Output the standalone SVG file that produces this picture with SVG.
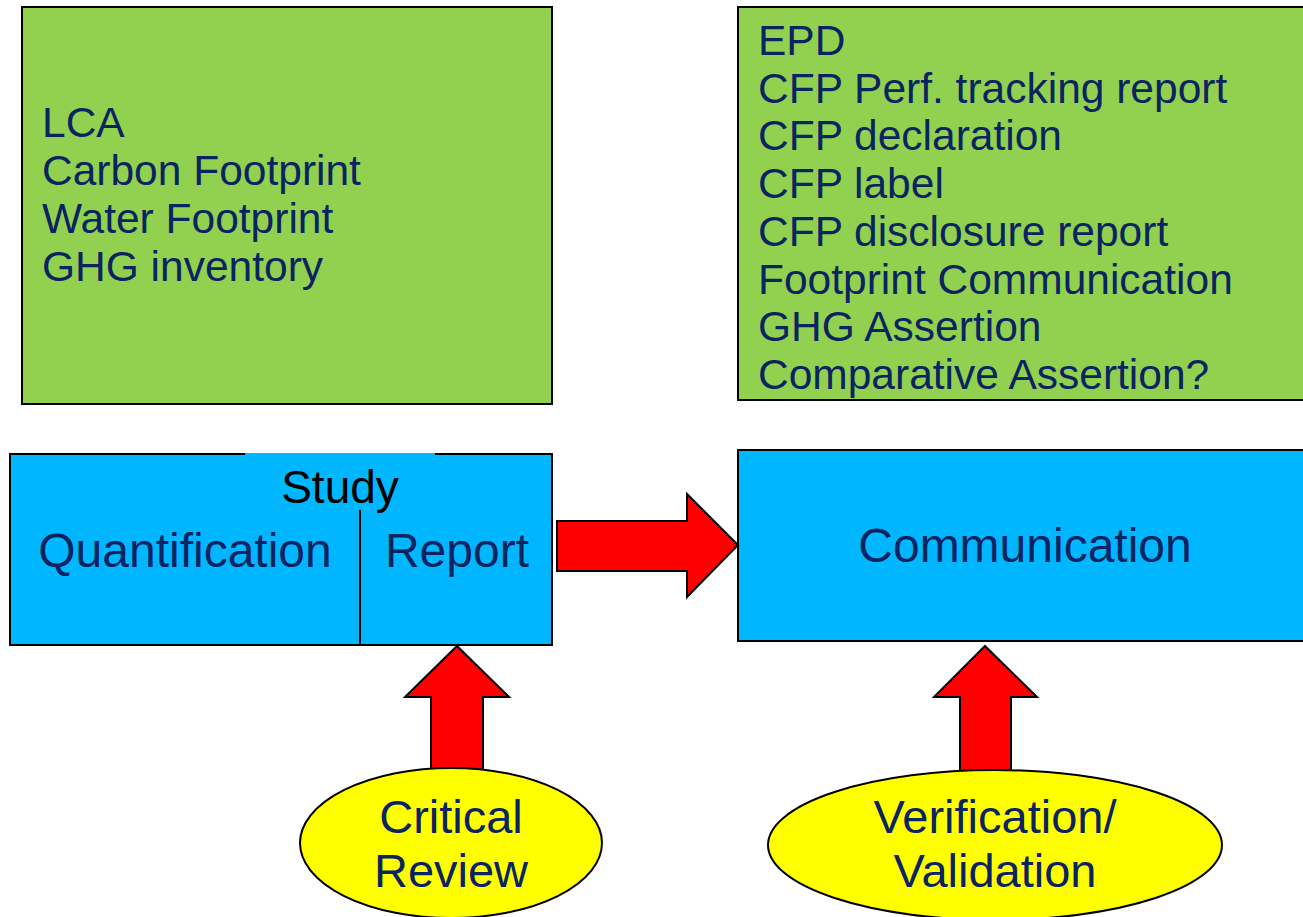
<svg xmlns="http://www.w3.org/2000/svg" width="1303" height="917" viewBox="0 0 1303 917">
<style>
.green{fill:#92D050;stroke:#000;stroke-width:2}
.blue{fill:#00B6FF;stroke:#000;stroke-width:2}
.arrow{fill:#FF0000;stroke:#000;stroke-width:2;stroke-linejoin:miter}
.oval{fill:#FFFF00;stroke:#000;stroke-width:2}
text{font-family:"Liberation Sans",Arial,sans-serif;fill:#0A2461}
.list{font-size:42.5px}
.big{font-size:48px}
.mid{font-size:47px}
</style>
<rect width="1303" height="917" fill="#fff"/>
<g id="studies">
<rect class="green" x="22" y="7" width="530" height="397"/>
<text class="list"><tspan x="42" y="137">LCA</tspan><tspan x="42" y="185">Carbon Footprint</tspan><tspan x="42" y="233">Water Footprint</tspan><tspan x="42" y="281">GHG inventory</tspan></text>
</g>
<g id="communications">
<rect class="green" x="738" y="7" width="580" height="393"/>
<text class="list"><tspan x="758" y="55">EPD</tspan><tspan x="758" y="103">CFP Perf. tracking report</tspan><tspan x="758" y="150">CFP declaration</tspan><tspan x="758" y="198">CFP label</tspan><tspan x="758" y="246">CFP disclosure report</tspan><tspan x="758" y="294">Footprint Communication</tspan><tspan x="758" y="341">GHG Assertion</tspan><tspan x="758" y="389">Comparative Assertion?</tspan></text>
</g>
<g id="study">
<rect class="blue" x="10" y="454" width="542" height="191"/>
<rect x="245" y="453" width="190" height="3" fill="#00B6FF"/>
<line x1="360" y1="510" x2="360" y2="645" stroke="#000" stroke-width="2"/>
<text x="340" y="503" font-size="46" text-anchor="middle" style="fill:#000">Study</text>
<text class="big" x="185" y="567" text-anchor="middle">Quantification</text>
<text class="big" x="457" y="567" text-anchor="middle">Report</text>
</g>
<g id="communication">
<rect class="blue" x="738" y="450" width="580" height="191"/>
<text class="big" x="1025" y="562" text-anchor="middle">Communication</text>
</g>
<g id="connectors">
<polygon class="arrow" points="557,521 687,521 687,494 738,545 687,597 687,571 557,571"/>
<polygon class="arrow" points="457,646 509,697 483,697 483,775 431,775 431,697 405,697"/>
<polygon class="arrow" points="985,646 1037,697 1011,697 1011,775 960,775 960,697 934,697"/>
</g>
<g id="critical-review">
<ellipse class="oval" cx="451" cy="843" rx="151" ry="75"/>
<text class="mid" x="451" y="833" text-anchor="middle">Critical</text>
<text class="mid" x="451" y="887" text-anchor="middle">Review</text>
</g>
<g id="verification">
<ellipse class="oval" cx="995" cy="845" rx="227" ry="75"/>
<text class="mid" x="995" y="833" text-anchor="middle">Verification/</text>
<text class="mid" x="995" y="887" text-anchor="middle">Validation</text>
</g>
</svg>
